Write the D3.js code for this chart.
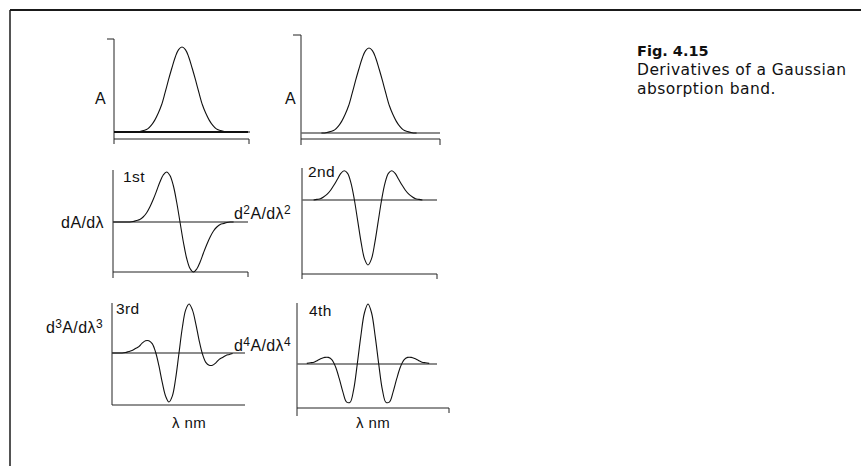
<!DOCTYPE html>
<html>
<head>
<meta charset="utf-8">
<script src="https://cdn.jsdelivr.net/npm/d3@7"></script>
<style>
  html, body { margin: 0; padding: 0; background: #fff; }
  svg { display: block; }
</style>
</head>
<body>
<svg id="chart" width="861" height="466"></svg>
<script>
// ---- data ----
// relative wavelength positions (arbitrary units)
const lambda = [0,2.5,5,7.5,10,12.5,15,17.5,20,22.5,25,27.5,30,32.5,35,37.5,40,42.5,45,47.5,50,
                52.5,55,57.5,60,62.5,65,67.5,70,72.5,75,77.5,80,82.5,85,87.5,90,92.5,95,97.5,100];
// absorbance A (normalised to peak)
const absorbance = [0,0,0,0,0,0,0,0,0.01,0.02,0.04,0.08,0.14,0.22,0.32,0.46,0.61,0.75,0.88,0.97,1.00,
                    0.97,0.88,0.75,0.61,0.46,0.32,0.22,0.14,0.08,0.04,0.02,0.01,0,0,0,0,0,0,0,0];
// 1st derivative dA/dλ
const deriv1 = [0,0,0,0,0,0,0.01,0.03,0.05,0.10,0.18,0.30,0.45,0.62,0.80,0.94,1.00,0.93,0.73,0.40,0,
                -0.40,-0.73,-0.93,-1.00,-0.94,-0.80,-0.62,-0.45,-0.30,-0.18,-0.10,-0.05,-0.03,-0.01,0,0,0,0,0,0];
// 2nd derivative d2A/dλ2
const deriv2 = [0,0,0,0,0,0.01,0.02,0.05,0.09,0.15,0.23,0.32,0.41,0.45,0.41,0.26,0,-0.33,-0.66,-0.91,-1.00,
                -0.91,-0.66,-0.33,0,0.26,0.41,0.45,0.41,0.32,0.23,0.15,0.09,0.05,0.02,0.01,0,0,0,0,0];
// 3rd derivative d3A/dλ3
const deriv3 = [0,0,0,0,0.01,0.03,0.05,0.09,0.13,0.20,0.25,0.25,0.19,0.02,-0.26,-0.60,-0.88,-1.00,-0.88,-0.52,0,
                0.52,0.88,1.00,0.88,0.60,0.26,-0.02,-0.19,-0.25,-0.25,-0.20,-0.13,-0.09,-0.05,-0.03,-0.01,0,0,0,0];
// 4th derivative d4A/dλ4
const deriv4 = [0,0,0,0.01,0.02,0.03,0.06,0.09,0.11,0.11,0.07,-0.05,-0.24,-0.46,-0.63,-0.64,-0.43,-0.01,0.46,0.85,1.00,
                0.85,0.46,-0.01,-0.43,-0.64,-0.63,-0.46,-0.24,-0.05,0.07,0.11,0.11,0.09,0.06,0.03,0.02,0.01,0,0,0];

const cornerLabels = ["", "", "1st", "2nd", "3rd", "4th"];
const xAxisLabel = "λ nm";
const captionTitle = "Fig. 4.15";
const captionLines = ["Derivatives of a Gaussian", "absorption band."];

// ---- layout (pixel geometry per panel) ----
const panels = [
  { series: absorbance, ax: 114, top: 39, axBot: 144, botY: 139, botEnd: 249, tickEnd: 144, zeroEnd: 248,
    xr: [114, 250], yz: 132, y1: 47, topTick: 107, from: 0, to: 100, baseBlack: true },
  { series: absorbance, ax: 301, top: 35, axBot: 145, botY: 139, botEnd: 440, tickEnd: 145, zeroEnd: 440,
    xr: [301, 437], yz: 133, y1: 48, topTick: 293, from: 15, to: 85 },
  { series: deriv1, ax: 113, top: 170, axBot: 278, botY: 272, botEnd: 248, tickEnd: 277, zeroEnd: 248,
    xr: [113, 247], yz: 222, y1: 172, from: 0, to: 90 },
  { series: deriv2, ax: 302, top: 168, axBot: 279, botY: 274, botEnd: 437, tickEnd: 279, zeroEnd: 437,
    xr: [300, 436], yz: 200, y1: 135, from: 10, to: 90 },
  { series: deriv3, ax: 112, top: 303, axBot: 405, botY: 405, botEnd: 245, tickEnd: null, zeroEnd: 245,
    xr: [112, 246], yz: 353, y1: 304, from: 0, to: 90 },
  { series: deriv4, ax: 297, top: 303, axBot: 416, botY: 408, botEnd: 449, tickEnd: 413, zeroEnd: 437,
    xr: [296, 440], yz: 364, y1: 304, from: 7.5, to: 92.5 }
];

const LBL_FONT = "'Liberation Sans', Arial, sans-serif";
const CAP_FONT = "'DejaVu Sans', sans-serif";

const svg = d3.select("#chart");

// frame
svg.append("line").attr("x1", 10).attr("y1", 10).attr("x2", 861).attr("y2", 10)
  .attr("stroke", "#1a1a1a").attr("stroke-width", 2);
svg.append("line").attr("x1", 10).attr("y1", 10).attr("x2", 10).attr("y2", 466)
  .attr("stroke", "#1a1a1a").attr("stroke-width", 1.5);

panels.forEach((p) => {
  const g = svg.append("g");
  const x = d3.scaleLinear().domain([0, 100]).range(p.xr);
  const y = d3.scaleLinear().domain([0, 1]).range([p.yz, p.y1]);

  // left axis
  g.append("line").attr("x1", p.ax).attr("x2", p.ax).attr("y1", p.top).attr("y2", p.axBot)
    .attr("stroke", "#222").attr("stroke-width", 1);
  if (p.topTick != null) {
    g.append("line").attr("x1", p.topTick).attr("x2", p.ax).attr("y1", p.top).attr("y2", p.top)
      .attr("stroke", "#222").attr("stroke-width", 1);
  }
  // bottom axis
  g.append("line").attr("x1", p.ax).attr("x2", p.botEnd).attr("y1", p.botY).attr("y2", p.botY)
    .attr("stroke", "#222").attr("stroke-width", 1);
  if (p.tickEnd != null) {
    g.append("line").attr("x1", p.botEnd).attr("x2", p.botEnd).attr("y1", p.botY).attr("y2", p.tickEnd)
      .attr("stroke", "#222").attr("stroke-width", 1);
  }
  // zero / base line
  g.append("line").attr("x1", p.ax).attr("x2", p.zeroEnd).attr("y1", y(0)).attr("y2", y(0))
    .attr("stroke", p.baseBlack ? "#111" : "#666").attr("stroke-width", p.baseBlack ? 2 : 1.3);

  // curve
  const pts = lambda.map((l, i) => ({ l, v: p.series[i] }))
    .filter(d => d.l >= p.from && d.l <= p.to);
  const line = d3.line().x(d => x(d.l)).y(d => y(d.v)).curve(d3.curveCatmullRom.alpha(0.5));
  g.append("path").datum(pts).attr("d", line)
    .attr("fill", "none").attr("stroke", "#111").attr("stroke-width", 1.1);
});

function label(xp, yp, s, size, anchor) {
  return svg.append("text").attr("x", xp).attr("y", yp)
    .attr("font-family", LBL_FONT).attr("font-size", size || 15).attr("fill", "#111")
    .attr("letter-spacing", 0.4)
    .attr("text-anchor", anchor || "start").text(s);
}

// text with superscripts: d<sup>n</sup>A/dλ<sup>n</sup>
function derivLabel(xp, yp, n, anchor) {
  const t = svg.append("text").attr("x", xp).attr("y", yp)
    .attr("font-family", LBL_FONT).attr("font-size", 16).attr("fill", "#111")
    .attr("letter-spacing", 0.4)
    .attr("text-anchor", anchor || "start");
  t.append("tspan").text("d");
  t.append("tspan").text(n).attr("font-size", 12).attr("dy", -5);
  t.append("tspan").text("A/dλ").attr("dy", 5);
  t.append("tspan").text(n).attr("font-size", 12).attr("dy", -5);
  return t;
}

// axis labels
label(95, 104, "A", 16);
label(285, 104, "A", 16);

label(123, 182, cornerLabels[2], 15.5);
label(308, 177, cornerLabels[3], 15.5);
label(116, 314, cornerLabels[4], 15.5);
label(309, 316, cornerLabels[5], 15.5);

label(104, 228, "dA/dλ", 16, "end");
derivLabel(234, 219, "2");
derivLabel(103, 333, "3", "end");
derivLabel(234, 351, "4");

label(189, 428, xAxisLabel, 15, "middle");
label(373, 428, xAxisLabel, 15, "middle");

// caption
svg.append("text").attr("x", 637).attr("y", 56)
  .attr("font-family", CAP_FONT).attr("font-size", 14.5).attr("font-weight", "bold").attr("fill", "#111")
  .text(captionTitle);
captionLines.forEach((s, i) => {
  svg.append("text").attr("x", 637).attr("y", 75 + i * 19)
    .attr("font-family", CAP_FONT).attr("font-size", 15.5).attr("letter-spacing", 0.45).attr("fill", "#111")
    .text(s);
});
</script>
</body>
</html>
